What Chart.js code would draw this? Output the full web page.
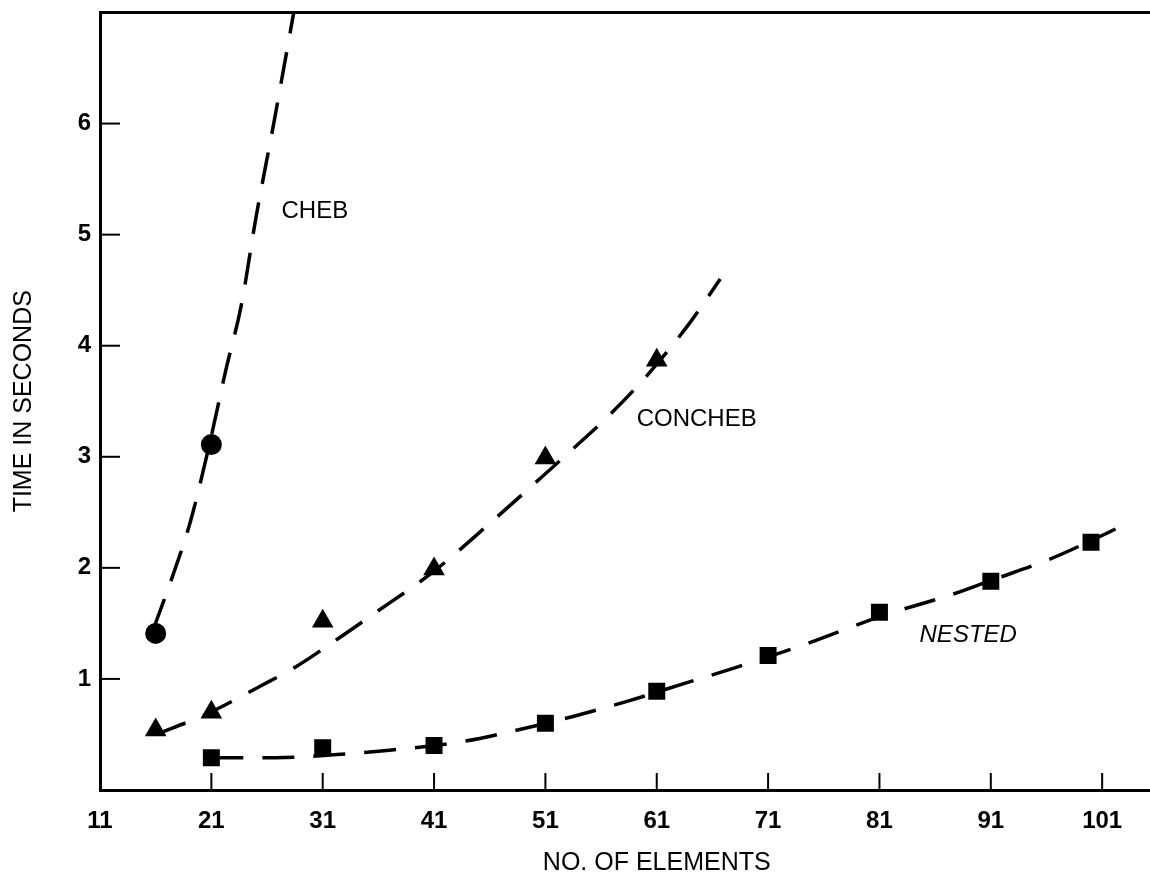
<!DOCTYPE html>
<html>
<head>
<meta charset="utf-8">
<title>Time in seconds vs number of elements</title>
<script src="https://cdn.jsdelivr.net/npm/chart.js@4/dist/chart.umd.min.js"></script>
<style>
  html, body { margin: 0; padding: 0; background: #fff; overflow: hidden; }
  #wrap { width: 1226px; height: 881px; }
</style>
</head>
<body>
<div id="wrap"><canvas id="chart" width="1226" height="881"></canvas></div>
<script>
// axis ticks
const xTicks = [11, 21, 31, 41, 51, 61, 71, 81, 91, 101];
const yTicks = [1, 2, 3, 4, 5, 6];

// measured points (markers)
const chebX = [16, 21];
const chebY = [1.41, 3.11];
const concX = [16, 21, 31, 41, 51, 61];
const concY = [0.54, 0.70, 1.52, 1.99, 2.99, 3.87];
const nestX = [21, 31, 41, 51, 61, 71, 81, 91, 100];
const nestY = [0.29, 0.38, 0.40, 0.60, 0.89, 1.21, 1.60, 1.88, 2.23];

// dashed fitted curves
const chebFitX = [15.8, 17.5, 19.1, 20.8, 22.3, 23.7, 25.0, 26.6, 28.4];
const chebFitY = [1.45, 1.92, 2.41, 3.10, 3.78, 4.37, 5.15, 6.00, 7.00];
const concFitX = [16.0, 20.5, 25.3, 28.6, 32.2, 35.5, 41.0, 46.0, 50.7, 53.9, 57.0, 60.2, 64.0, 66.7];
const concFitY = [0.50, 0.68, 0.93, 1.11, 1.35, 1.58, 1.97, 2.40, 2.82, 3.11, 3.40, 3.74, 4.21, 4.60];
const nestFitX = [21.0, 26.8, 32.3, 37.2, 43.8, 48.5, 53.4, 58.4, 63.5, 68.0, 74.3, 81.3, 87.5, 91.1, 96.1, 99.7, 102.2];
const nestFitY = [0.29, 0.29, 0.32, 0.36, 0.44, 0.54, 0.66, 0.80, 0.96, 1.10, 1.31, 1.57, 1.76, 1.89, 2.07, 2.23, 2.35];

// curve labels (anchored in data units)
const labelText = ['CHEB', 'CONCHEB', 'NESTED'];
const labelX = [27.3, 59.2, 84.6];
const labelY = [5.21, 3.34, 1.39];
const labelItalic = [false, false, true];

const FONT = '"Liberation Sans", Arial, Helvetica, sans-serif';
Chart.defaults.font.family = FONT;
Chart.defaults.color = '#000';

const pts = (xs, ys) => xs.map((x, i) => ({ x, y: ys[i] }));

function curve(xs, ys) {
  return {
    data: pts(xs, ys),
    showLine: true,
    borderColor: '#000',
    borderWidth: 3.5,
    borderDash: [32, 19],
    pointRadius: 0,
    cubicInterpolationMode: 'monotone',
    fill: false,
  };
}

function markers(xs, ys, style, radius) {
  return {
    data: pts(xs, ys),
    showLine: false,
    pointStyle: style,
    pointRadius: radius,
    backgroundColor: '#000',
    borderColor: '#000',
    borderWidth: 0,
  };
}

// no extra room for edge labels: the frame sits where the scan has it
function noEdgePadding(scale) {
  scale.paddingTop = 0;
  scale.paddingBottom = 0;
  scale.paddingLeft = 0;
  scale.paddingRight = 0;
}

// top edge, inward tick marks and curve names
const framePlugin = {
  id: 'frame',
  afterDraw(chart) {
    const { ctx, chartArea: a, scales: { x, y } } = chart;
    ctx.save();
    ctx.strokeStyle = '#000';
    ctx.lineWidth = 3;
    ctx.beginPath();
    ctx.moveTo(a.left, a.top);
    ctx.lineTo(a.right, a.top);
    ctx.stroke();

    ctx.lineWidth = 2;
    xTicks.forEach((v) => {
      const px = x.getPixelForValue(v);
      if (px <= a.left + 2) return;
      ctx.beginPath();
      ctx.moveTo(px, a.bottom);
      ctx.lineTo(px, a.bottom - 17);
      ctx.stroke();
    });
    yTicks.forEach((v) => {
      const py = y.getPixelForValue(v);
      ctx.beginPath();
      ctx.moveTo(a.left, py);
      ctx.lineTo(a.left + 20, py);
      ctx.stroke();
    });

    ctx.fillStyle = '#000';
    ctx.textAlign = 'left';
    ctx.textBaseline = 'middle';
    labelText.forEach((t, i) => {
      ctx.font = (labelItalic[i] ? 'italic ' : '') + '24px ' + FONT;
      ctx.fillText(t, x.getPixelForValue(labelX[i]), y.getPixelForValue(labelY[i]));
    });
    ctx.restore();
  },
};

new Chart(document.getElementById('chart'), {
  type: 'scatter',
  data: {
    datasets: [
      curve(chebFitX, chebFitY),
      curve(concFitX, concFitY),
      curve(nestFitX, nestFitY),
      markers(chebX, chebY, 'circle', 10.5),
      markers(concX, concY, 'triangle', 12.5),
      markers(nestX, nestY, 'rect', 12),
    ],
  },
  options: {
    responsive: false,
    animation: false,
    devicePixelRatio: 1,
    layout: { padding: { left: 0, top: 10, right: 2, bottom: 0 } },
    plugins: {
      legend: { display: false },
      tooltip: { enabled: false },
    },
    scales: {
      x: {
        type: 'linear',
        position: 'bottom',
        min: 11,
        max: 111,
        afterBuildTicks: (scale) => { scale.ticks = xTicks.map((v) => ({ value: v })); },
        afterFit: (scale) => { scale.height = 91; noEdgePadding(scale); },
        grid: { display: false, drawTicks: false },
        border: { display: true, color: '#000', width: 3 },
        ticks: {
          padding: 17,
          font: { size: 24, weight: 'bold' },
          callback: (v) => String(v),
        },
        title: {
          display: true,
          text: 'NO. OF ELEMENTS',
          font: { size: 25 },
          padding: { top: 0, bottom: 3 },
        },
      },
      y: {
        type: 'linear',
        min: 0,
        max: 7,
        afterBuildTicks: (scale) => { scale.ticks = yTicks.map((v) => ({ value: v })); },
        afterFit: (scale) => { scale.width = 100; noEdgePadding(scale); },
        grid: { display: false, drawTicks: false },
        border: { display: true, color: '#000', width: 3 },
        ticks: {
          padding: 9,
          font: { size: 24, weight: 'bold' },
          callback: (v) => String(v),
        },
        title: {
          display: true,
          text: 'TIME IN SECONDS',
          font: { size: 25 },
          padding: { top: 9, bottom: 9 },
        },
      },
    },
  },
  plugins: [framePlugin],
});
</script>
</body>
</html>
